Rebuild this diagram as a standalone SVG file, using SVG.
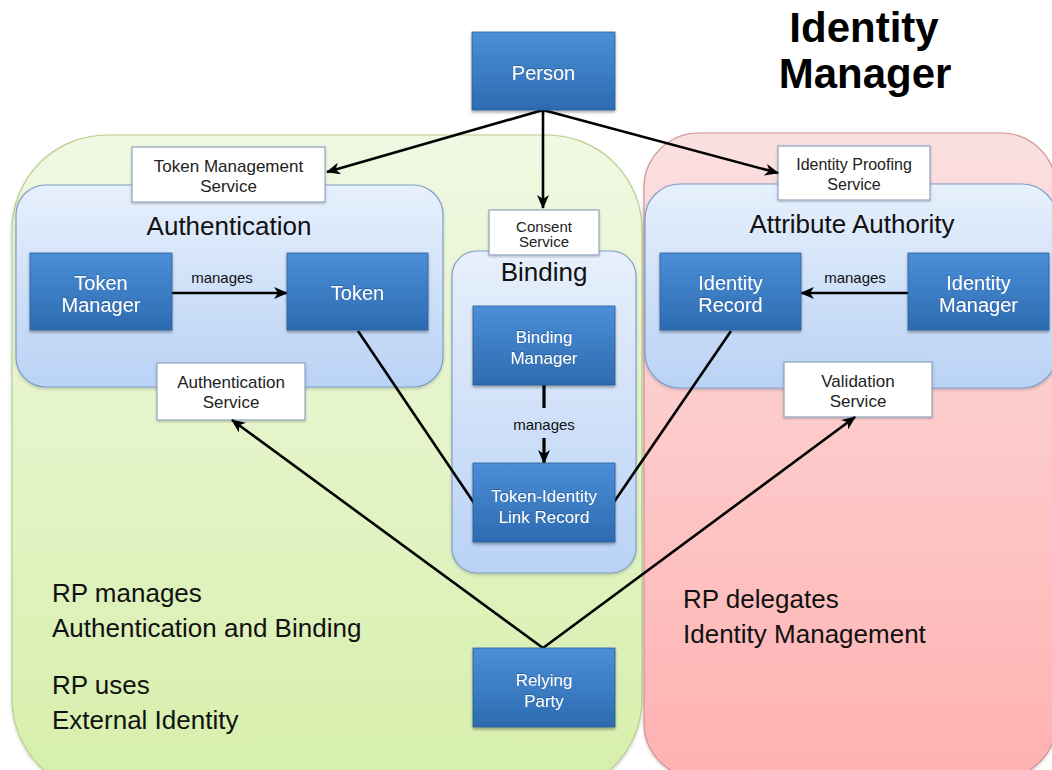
<svg xmlns="http://www.w3.org/2000/svg" width="1052" height="770" viewBox="0 0 1052 770">
  <defs>
    <linearGradient id="gGreen" x1="0" y1="0" x2="0" y2="1">
      <stop offset="0" stop-color="#f1f8e3"/>
      <stop offset="1" stop-color="#d6efaa"/>
    </linearGradient>
    <linearGradient id="gRed" x1="0" y1="0" x2="0" y2="1">
      <stop offset="0" stop-color="#fbe0e0"/>
      <stop offset="1" stop-color="#ffb1b1"/>
    </linearGradient>
    <linearGradient id="gArea" x1="0" y1="0" x2="0" y2="1">
      <stop offset="0" stop-color="#e7f0fc"/>
      <stop offset="1" stop-color="#b9d2f5"/>
    </linearGradient>
    <linearGradient id="gNode" x1="0" y1="0" x2="0" y2="1">
      <stop offset="0" stop-color="#4b8fd8"/>
      <stop offset="1" stop-color="#2d6bb0"/>
    </linearGradient>
    <filter id="shadow" x="-10%" y="-10%" width="120%" height="130%">
      <feDropShadow dx="0" dy="2" stdDeviation="1.5" flood-color="#000" flood-opacity="0.35"/>
    </filter>
    <filter id="softShadow" x="-5%" y="-5%" width="110%" height="110%">
      <feDropShadow dx="0" dy="1.5" stdDeviation="1.5" flood-color="#000" flood-opacity="0.2"/>
    </filter>
    <filter id="txtShadow" x="-10%" y="-20%" width="120%" height="140%">
      <feDropShadow dx="0" dy="-1" stdDeviation="0.6" flood-color="#1d4a80" flood-opacity="0.6"/>
    </filter>
    <marker id="arrow" markerUnits="userSpaceOnUse" markerWidth="14" markerHeight="12" refX="13" refY="6" orient="auto">
      <path d="M0,0 L14,6 L0,12 L4,6 z" fill="#000"/>
    </marker>
    <style>
      .region-green { fill: url(#gGreen); stroke: #b8cf8c; stroke-width: 1.2; filter: url(#softShadow); }
      .region-red { fill: url(#gRed); stroke: #d29191; stroke-width: 1.2; filter: url(#softShadow); }
      .area { fill: url(#gArea); stroke: #7f9fc8; stroke-width: 1.2; filter: url(#softShadow); }
      .node { fill: url(#gNode); stroke: #2c5e98; stroke-width: 0.8; filter: url(#shadow); }
      .service { fill: #ffffff; stroke: #8ea4bf; stroke-width: 1.2; filter: url(#softShadow); }
      .ntext { font-family: "Liberation Sans", Arial, sans-serif; font-size: 20px; fill: #ffffff; text-anchor: middle; filter: url(#txtShadow); }
      .ntext.sm { font-size: 17px; }
      .stext { font-family: "Liberation Sans", Arial, sans-serif; font-size: 17px; fill: #222; text-anchor: middle; }
      .atitle { font-family: "Liberation Sans", Arial, sans-serif; font-size: 26px; fill: #111; text-anchor: middle; }
      .note { font-family: "Liberation Sans", Arial, sans-serif; font-size: 26px; fill: #111; }
      .lbl { font-family: "Liberation Sans", Arial, sans-serif; font-size: 15px; fill: #111; text-anchor: middle; }
      .title { font-family: "Liberation Sans", Arial, sans-serif; font-size: 42px; font-weight: bold; fill: #000; text-anchor: middle; }
      .conn { fill: none; stroke: #000; stroke-width: 2.6; }
      .conn.thick { stroke-width: 3.2; }
    </style>
  </defs>

  <rect width="1052" height="770" fill="#ffffff"/>

  <!-- Title -->
  <g id="title">
    <text class="title" x="864" y="42">Identity</text>
    <text class="title" x="865" y="88">Manager</text>
  </g>

  <!-- Outer domains -->
  <g id="rp-domain">
    <rect class="region-green" x="12" y="135" width="630" height="659" rx="95" ry="95"/>
    <text class="note" x="52" y="602">RP manages</text>
    <text class="note" x="52" y="637">Authentication and Binding</text>
    <text class="note" x="52" y="694">RP uses</text>
    <text class="note" x="52" y="729">External Identity</text>
  </g>
  <g id="idm-domain">
    <rect class="region-red" x="644" y="133" width="412" height="645" rx="55" ry="55"/>
    <text class="note" x="683" y="608">RP delegates</text>
    <text class="note" x="683" y="643">Identity Management</text>
  </g>

  <!-- Functional areas -->
  <g id="authentication">
    <rect class="area" x="16" y="185" width="427" height="202" rx="30" ry="30"/>
    <text class="atitle" x="229" y="235">Authentication</text>
  </g>
  <g id="attribute-authority">
    <rect class="area" x="645" y="184" width="412" height="204" rx="35" ry="35"/>
    <text class="atitle" x="852" y="233">Attribute Authority</text>
  </g>
  <g id="binding">
    <rect class="area" x="452" y="251" width="184" height="322" rx="25" ry="25"/>
    <text class="atitle" x="544" y="281">Binding</text>
  </g>

  <!-- Service endpoints -->
  <g id="token-management-service">
    <rect class="service" x="132" y="147" width="193" height="55"/>
    <text class="stext" x="228.5" y="172">Token Management</text>
    <text class="stext" x="228.5" y="192">Service</text>
  </g>
  <g id="authentication-service">
    <rect class="service" x="157" y="363" width="148" height="57"/>
    <text class="stext" x="231" y="388">Authentication</text>
    <text class="stext" x="231" y="408">Service</text>
  </g>
  <g id="consent-service">
    <rect class="service" x="489" y="210" width="110" height="45"/>
    <text class="stext" x="544" y="232" style="font-size:15px">Consent</text>
    <text class="stext" x="544" y="247" style="font-size:15px">Service</text>
  </g>
  <g id="identity-proofing-service">
    <rect class="service" x="778" y="146" width="152" height="54"/>
    <text class="stext" x="854" y="170" style="font-size:16px">Identity Proofing</text>
    <text class="stext" x="854" y="190" style="font-size:16px">Service</text>
  </g>
  <g id="validation-service">
    <rect class="service" x="784" y="362" width="148" height="55"/>
    <text class="stext" x="858" y="387">Validation</text>
    <text class="stext" x="858" y="407">Service</text>
  </g>

  <!-- Connectors -->
  <g id="connectors">
    <line class="conn" x1="543" y1="110" x2="327" y2="172" marker-end="url(#arrow)"/>
    <line class="conn" x1="543" y1="110" x2="543" y2="208" marker-end="url(#arrow)"/>
    <line class="conn" x1="543" y1="110" x2="778" y2="173" marker-end="url(#arrow)"/>
    <line class="conn" x1="172" y1="293" x2="287" y2="293" marker-end="url(#arrow)"/>
    <text class="lbl" x="222" y="283">manages</text>
    <line class="conn" x1="908" y1="293" x2="801" y2="293" marker-end="url(#arrow)"/>
    <text class="lbl" x="855" y="283">manages</text>
    <line class="conn thick" x1="544" y1="385" x2="544" y2="408"/>
    <text class="lbl" x="544" y="430">manages</text>
    <line class="conn thick" x1="544" y1="438" x2="544" y2="463" marker-end="url(#arrow)"/>
    <line class="conn" x1="358" y1="331" x2="474" y2="503"/>
    <line class="conn" x1="731" y1="331" x2="614" y2="502"/>
    <line class="conn" x1="543" y1="648" x2="232" y2="420" marker-end="url(#arrow)"/>
    <line class="conn" x1="543" y1="648" x2="855" y2="417" marker-end="url(#arrow)"/>
  </g>

  <!-- Entities -->
  <g id="person">
    <rect class="node" x="472" y="32" width="143" height="78"/>
    <text class="ntext" x="543.5" y="80">Person</text>
  </g>
  <g id="token-manager">
    <rect class="node" x="30" y="253" width="142" height="77"/>
    <text class="ntext" x="101" y="290">Token</text>
    <text class="ntext" x="101" y="312">Manager</text>
  </g>
  <g id="token">
    <rect class="node" x="287" y="253" width="141" height="77"/>
    <text class="ntext" x="357.5" y="300">Token</text>
  </g>
  <g id="identity-record">
    <rect class="node" x="660" y="253" width="141" height="77"/>
    <text class="ntext" x="730.5" y="290">Identity</text>
    <text class="ntext" x="730.5" y="312">Record</text>
  </g>
  <g id="identity-manager">
    <rect class="node" x="908" y="253" width="141" height="77"/>
    <text class="ntext" x="978.5" y="290">Identity</text>
    <text class="ntext" x="978.5" y="312">Manager</text>
  </g>
  <g id="binding-manager">
    <rect class="node" x="473" y="306" width="142" height="79"/>
    <text class="ntext sm" x="544" y="343">Binding</text>
    <text class="ntext sm" x="544" y="364">Manager</text>
  </g>
  <g id="token-identity-link-record">
    <rect class="node" x="473" y="463" width="142" height="79"/>
    <text class="ntext sm" x="544" y="502">Token-Identity</text>
    <text class="ntext sm" x="544" y="523">Link Record</text>
  </g>
  <g id="relying-party">
    <rect class="node" x="473" y="648" width="142" height="79"/>
    <text class="ntext sm" x="544" y="686">Relying</text>
    <text class="ntext sm" x="544" y="707">Party</text>
  </g>
</svg>
